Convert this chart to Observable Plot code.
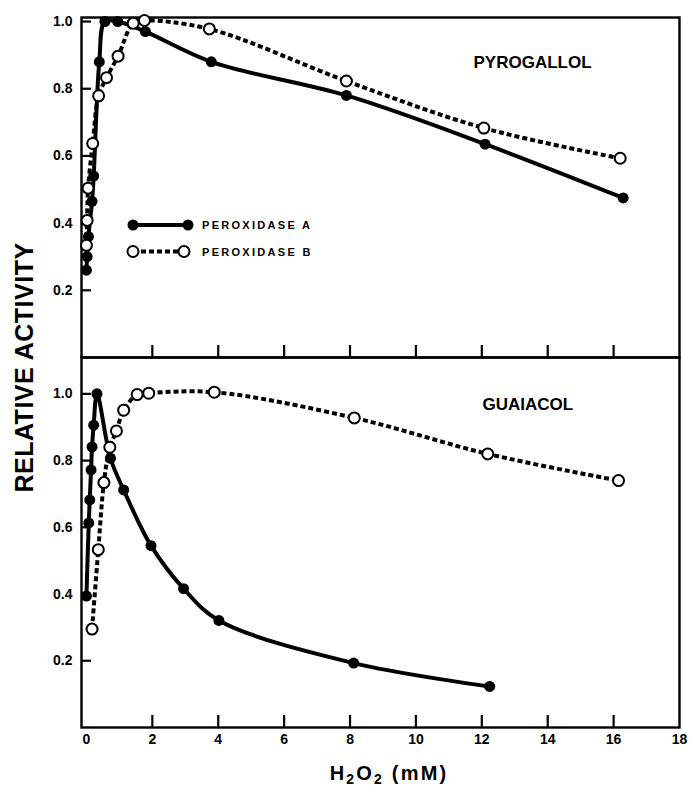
<!DOCTYPE html>
<html><head><meta charset="utf-8">
<script src="https://cdn.jsdelivr.net/npm/d3@7"></script>
<script src="https://cdn.jsdelivr.net/npm/@observablehq/plot@0.6"></script>
<style>
body{margin:0;background:#fff;}
#wrap{position:relative;width:691px;height:789px;overflow:hidden;background:#fff;font-family:"Liberation Sans",Arial,sans-serif;}
#wrap svg{position:absolute;left:0;}
</style></head><body><div id="wrap"></div>
<script>
// ---- data ----
const xTicks = [0, 2, 4, 6, 8, 10, 12, 14, 16, 18];
const yTicks = [0.2, 0.4, 0.6, 0.8, 1.0];
const seriesNames = ["PEROXIDASE A", "PEROXIDASE B"];
const panelNames = ["PYROGALLOL", "GUAIACOL"];

// Pyrogallol
const pyroA_x = [0.0, 0.02, 0.06, 0.17, 0.22, 0.39, 0.56, 0.95, 1.79, 3.79, 7.89, 12.1, 16.29];
const pyroA_y = [0.26, 0.30, 0.36, 0.465, 0.54, 0.88, 1.0, 1.0, 0.97, 0.88, 0.78, 0.635, 0.475];
const pyroB_x = [0.0, 0.02, 0.05, 0.19, 0.37, 0.61, 0.96, 1.42, 1.76, 3.73, 7.89, 12.06, 16.2];
const pyroB_y = [0.334, 0.408, 0.504, 0.637, 0.779, 0.833, 0.897, 0.995, 1.003, 0.978, 0.823, 0.683, 0.593];

// Guaiacol
const guaiA_x = [0.0, 0.07, 0.10, 0.14, 0.17, 0.22, 0.32, 0.73, 1.13, 1.96, 2.95, 4.02, 8.11, 12.24];
const guaiA_y = [0.394, 0.613, 0.682, 0.772, 0.841, 0.906, 1.0, 0.807, 0.712, 0.545, 0.416, 0.321, 0.193, 0.123];
const guaiB_x = [0.17, 0.36, 0.53, 0.71, 0.91, 1.13, 1.54, 1.89, 3.88, 8.13, 12.18, 16.15];
const guaiB_y = [0.295, 0.533, 0.734, 0.840, 0.889, 0.951, 0.998, 1.002, 1.005, 0.928, 0.82, 0.74];

const toRows = (xs, ys) => xs.map((x, i) => ({x, y: ys[i]}));

const FONT = "'Liberation Sans', Arial, sans-serif";
const W = 691, ML = 81, MR = 12;
const innerW = W - ML - MR;

function panel({height, marginTop, marginBottom, yMax, A, B, name, nameDy, nameSpacing, xLabels}) {
  const innerH = height - marginTop - marginBottom;
  const marks = [
    Plot.frame({strokeWidth: 2.4}),
    Plot.tickY(yTicks, {y: d => d, insetRight: innerW - 10, strokeWidth: 2.2}),
    Plot.tickX(xTicks.filter(d => d > 0 && d < 18), {x: d => d, insetTop: innerH - 12, strokeWidth: 2.2}),
    Plot.axisY({ticks: yTicks, tickSize: 0, tickPadding: 9, tickFormat: d3.format(".1f"), label: null, fontSize: 14, fontWeight: "bold"}),
    Plot.line(A, {x: "x", y: "y", curve: "catmull-rom", strokeWidth: 4, stroke: "black"}),
    Plot.line(B, {x: "x", y: "y", curve: "catmull-rom", strokeWidth: 4, stroke: "black", strokeDasharray: "5,3", strokeLinecap: "butt"}),
    Plot.dot(A, {x: "x", y: "y", r: 5.5, fill: "black", stroke: "none"}),
    Plot.dot(B, {x: "x", y: "y", r: 5.5, fill: "white", stroke: "black", strokeWidth: 2}),
    Plot.text([name], {frameAnchor: "top-left", text: d => d, textAnchor: "start", lineAnchor: "bottom",
      dx: nameDy[0], dy: nameDy[1], fontSize: 17, fontWeight: "bold", style: `letter-spacing:${nameSpacing}px`})
  ];
  if (xLabels) marks.push(Plot.axisX({ticks: xTicks, tickSize: 0, tickPadding: 7, tickFormat: d => String(d), label: null, fontSize: 14, fontWeight: "bold"}));
  return Plot.plot({
    width: W, height, marginLeft: ML, marginRight: MR, marginTop, marginBottom,
    x: {domain: [-0.15, 18], axis: xLabels ? undefined : null},
    y: {domain: [0, yMax]},
    style: {background: "transparent", fontFamily: FONT, fontSize: "14px", fontWeight: "bold", color: "black", overflow: "visible"},
    marks
  });
}

const wrap = document.getElementById("wrap");

const topPanel = panel({height: 360, marginTop: 17, marginBottom: 3, yMax: 1.012,
  A: toRows(pyroA_x, pyroA_y), B: toRows(pyroB_x, pyroB_y), name: panelNames[0], nameDy: [392, 50], nameSpacing: 0, xLabels: false});
topPanel.style.top = "0px";
wrap.appendChild(topPanel);

const bottomPanel = panel({height: 439, marginTop: 7, marginBottom: 62, yMax: 1.109,
  A: toRows(guaiA_x, guaiA_y), B: toRows(guaiB_x, guaiB_y), name: panelNames[1], nameDy: [401, 52], nameSpacing: 2, xLabels: true});
bottomPanel.style.top = "350px";
wrap.appendChild(bottomPanel);

// overlay: titles and legend
const ov = d3.select(wrap).append("svg").attr("width", W).attr("height", 789)
  .style("top", "0px").style("pointer-events", "none")
  .attr("font-family", FONT).attr("font-weight", "bold");

ov.append("text").attr("transform", "translate(24,367.5) rotate(-90)")
  .attr("text-anchor", "middle").attr("dominant-baseline", "central")
  .attr("font-size", 25).attr("letter-spacing", 0.5).text("RELATIVE ACTIVITY");

const xt = ov.append("text").attr("x", 389).attr("y", 780).attr("text-anchor", "middle")
  .attr("font-size", 20).attr("letter-spacing", 2.2);
xt.append("tspan").text("H");
xt.append("tspan").attr("dy", 4).attr("font-size", 14).text("2");
xt.append("tspan").attr("dy", -4).text("O");
xt.append("tspan").attr("dy", 4).attr("font-size", 14).text("2");
xt.append("tspan").attr("dy", -4).text("\u00a0(mM)");

// legend
const leg = [{y: 225, dash: null, fill: "black", x2: 188}, {y: 251.5, dash: "5,3", fill: "white", x2: 184}];
leg.forEach((l, i) => {
  ov.append("line").attr("x1", 133).attr("x2", l.x2).attr("y1", l.y).attr("y2", l.y)
    .attr("stroke", "black").attr("stroke-width", 4).attr("stroke-dasharray", l.dash);
  [133, l.x2].forEach(cx => ov.append("circle").attr("cx", cx).attr("cy", l.y).attr("r", 5.5)
    .attr("fill", l.fill).attr("stroke", l.fill === "black" ? "none" : "black").attr("stroke-width", 2));
  ov.append("text").attr("x", 202).attr("y", l.y + 4).attr("font-size", 11).attr("letter-spacing", 2.3)
    .text(seriesNames[i]);
});
</script></body></html>
